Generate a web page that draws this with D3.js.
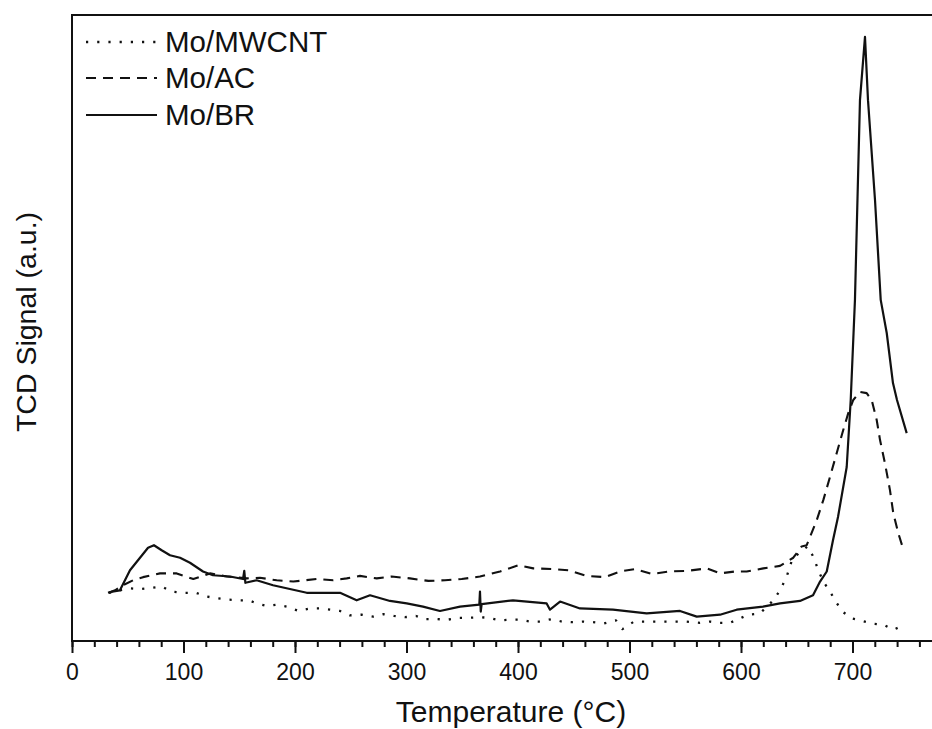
<!DOCTYPE html>
<html>
<head>
<meta charset="utf-8">
<script src="https://cdn.jsdelivr.net/npm/d3@7"></script>
<style>
  body { margin: 0; background: #fff; }
  svg { display: block; font-family: "Liberation Sans", Arial, sans-serif; }
</style>
</head>
<body>
<div id="chart"></div>
<script>
// TPR profiles, temperature (°C) vs TCD signal (a.u., arbitrary 0-100)
const seriesNames = ["Mo/MWCNT", "Mo/AC", "Mo/BR"];
const xTicks = [0, 100, 200, 300, 400, 500, 600, 700];

const moMWCNT = [
  [33.2,7.7],[43,8.1],[52.7,8.4],[61.7,8.3],[71.5,8.5],[80.4,8.7],[89.4,7.9],[100.4,7.7],
  [111.2,7.7],[120.8,7.1],[131.2,6.8],[140.8,6.6],[150.7,6.5],[158.7,6.5],[165.6,6.0],
  [174.6,5.6],[183.6,5.8],[192.6,5.5],[203,4.8],[213.5,5.2],[222.4,5.2],[231.4,5.0],
  [240.4,4.8],[249.3,4.1],[259.8,4.2],[270.2,3.9],[279.2,4.3],[288.8,4.0],[298.7,3.8],
  [308.5,4.0],[315.7,3.5],[327.1,3.5],[336.8,3.4],[346.5,3.7],[355.4,3.7],[365.9,3.8],
  [374,3.7],[383.9,3.3],[392.8,3.4],[401.8,3.4],[410.8,3.1],[419.7,3.1],[430.2,3.5],
  [439.5,3.1],[447.5,3.0],[458.3,3.1],[467.3,3.0],[477.1,2.8],[487.9,3.3],[493.7,1.9],
  [504,3.1],[515.4,3.1],[533.4,3.1],[551.3,3.1],[563.2,2.9],[572.2,3.1],[581.2,2.9],
  [590.1,2.9],[599.1,3.6],[606.5,4.2],[617,4.4],[629,6.5],[635,8.1],[641,10.3],
  [646.2,13.2],[652,14.0],[659.6,15.1],[664.8,13.5],[669.3,11.3],[673.8,9.5],[679.8,7.9],
  [685,6.3],[691,4.7],[699.3,3.6],[709,3.2],[717.2,2.8],[727.6,2.6],[736.6,1.8],[747.1,2.6]
];

const moAC = [
  [33.2,7.7],[38.6,8.1],[45.7,8.9],[54.7,9.7],[63.7,10.2],[71.7,10.5],[78.9,10.8],
  [93.9,10.8],[108.8,9.9],[123.8,10.8],[138.7,10.3],[156.7,10.0],[168.6,10.1],[183.6,9.7],
  [198.5,9.5],[219.5,9.9],[234.3,9.7],[246.4,10.0],[258.3,10.4],[273.3,10.0],[286.7,10.3],
  [303.1,10.0],[319.6,9.6],[334.5,9.7],[349.5,9.9],[365.9,10.3],[383.9,11.1],[400.3,12.1],
  [413.7,11.6],[430.2,11.5],[445.1,11.3],[461.6,10.4],[478,10.2],[491.5,11.1],[504.9,11.5],
  [519.9,10.7],[534.8,11.1],[551.3,11.2],[569.2,11.6],[581.2,10.8],[594.6,11.1],[605.1,11.1],
  [620,11.6],[635,12.0],[646.9,13.3],[654.4,15.1],[658.9,15.3],[667.9,19.3],[673.8,22.5],
  [679.8,26.2],[685.8,30.0],[691.7,33.7],[696.2,36.4],[700.7,38.5],[706.7,39.8],[712.7,39.6],
  [717.2,38.5],[721.7,35.3],[724.7,32.1],[729.1,28.4],[733.6,24.1],[736.6,20.4],[741.1,17.2],
  [746.2,14.3]
];

const moBR = [
  [32.3,7.7],[36,7.9],[43,8.1],[52,11.3],[61,13.3],[68.2,14.9],[73.5,15.3],[80.4,14.5],
  [87.9,13.7],[96.9,13.3],[105.8,12.5],[117.5,11.1],[126.5,10.5],[141.7,10.3],[153.4,9.9],
  [154.5,11.2],[155.5,9.3],[165.6,9.7],[180.3,8.9],[210.5,7.7],[240.4,7.7],[255.3,6.5],
  [267.3,7.3],[285.2,6.4],[300.2,6.0],[314.8,5.5],[330,4.8],[348,5.5],[365.3,5.8],
  [365.9,7.9],[366.6,4.7],[367.4,5.9],[395.5,6.5],[425.7,6.0],[428.7,5.0],[437.7,6.3],
  [455.6,5.2],[485.2,5.0],[515.4,4.4],[545.3,4.8],[560.3,3.9],[581.2,4.2],[596.1,5.0],
  [619.7,5.5],[635,6.0],[652.9,6.4],[664.6,7.3],[670.9,9.5],[676.9,11.1],[682.5,16.1],
  [687,19.8],[694.8,27.8],[698.4,38.5],[702.2,54.5],[706.7,86.4],[711.2,96.5],[713.9,86.4],
  [720.2,70.4],[725.3,54.5],[730.7,49.2],[736.3,41.2],[739.9,38.5],[748.6,33.2]
];

const W = 932, H = 729;
const marginLeft = 72, plotTop = 15, plotBottom = 641;
const xMax = 780;

const svg = d3.select("#chart").append("svg").attr("width", W).attr("height", H);

const x = d3.scaleLinear().domain([0, xMax]).range([marginLeft, marginLeft + 1.115 * xMax]);
const y = d3.scaleLinear().domain([0, 100]).range([plotBottom, plotTop]);

// frame (right edge falls outside the picture)
svg.append("rect")
  .attr("x", marginLeft).attr("y", plotTop)
  .attr("width", x(xMax) - marginLeft).attr("height", plotBottom - plotTop)
  .attr("fill", "none").attr("stroke", "#111").attr("stroke-width", 2);

// minor ticks
svg.append("g")
  .attr("transform", `translate(0,${plotBottom})`)
  .call(d3.axisBottom(x).tickValues(d3.range(0, xMax + 1, 20)).tickSize(6).tickFormat(""))
  .call(g => g.select(".domain").remove())
  .call(g => g.selectAll("line").attr("stroke", "#111").attr("stroke-width", 2));

// major ticks + labels
const xAxis = svg.append("g")
  .attr("transform", `translate(0,${plotBottom})`)
  .call(d3.axisBottom(x).tickValues(xTicks).tickSize(12).tickPadding(11))
  .call(g => g.select(".domain").remove());
xAxis.selectAll("line").attr("stroke", "#111").attr("stroke-width", 2);
xAxis.selectAll("text").attr("font-size", 23).attr("fill", "#111")
  .style("font-family", "Liberation Sans, Arial, sans-serif");

svg.append("text")
  .attr("x", 511).attr("y", 722)
  .attr("text-anchor", "middle").attr("font-size", 30).attr("fill", "#111")
  .text("Temperature (°C)");

svg.append("text")
  .attr("transform", "translate(36,322) rotate(-90)")
  .attr("text-anchor", "middle").attr("font-size", 28.5).attr("fill", "#111")
  .text("TCD Signal (a.u.)");

const line = d3.line().x(d => x(d[0])).y(d => y(d[1]));
const styles = [
  { data: moMWCNT, dash: "2.2,9", width: 2.3 },
  { data: moAC, dash: "10,7", width: 2.1 },
  { data: moBR, dash: null, width: 2.2 }
];

styles.forEach(s => {
  svg.append("path")
    .datum(s.data)
    .attr("d", line)
    .attr("fill", "none")
    .attr("stroke", "#111")
    .attr("stroke-width", s.width)
    .attr("stroke-linejoin", "round")
    .attr("stroke-dasharray", s.dash);
});

// legend
const legendY = [42, 78, 115];
const legend = svg.append("g");
seriesNames.forEach((name, i) => {
  legend.append("line")
    .attr("x1", 86).attr("x2", 157)
    .attr("y1", legendY[i]).attr("y2", legendY[i])
    .attr("stroke", "#111").attr("stroke-width", styles[i].width)
    .attr("stroke-dasharray", styles[i].dash);
  legend.append("text")
    .attr("x", 165).attr("y", legendY[i] + 10)
    .attr("font-size", 29.5).attr("fill", "#111")
    .text(name);
});
</script>
</body>
</html>
